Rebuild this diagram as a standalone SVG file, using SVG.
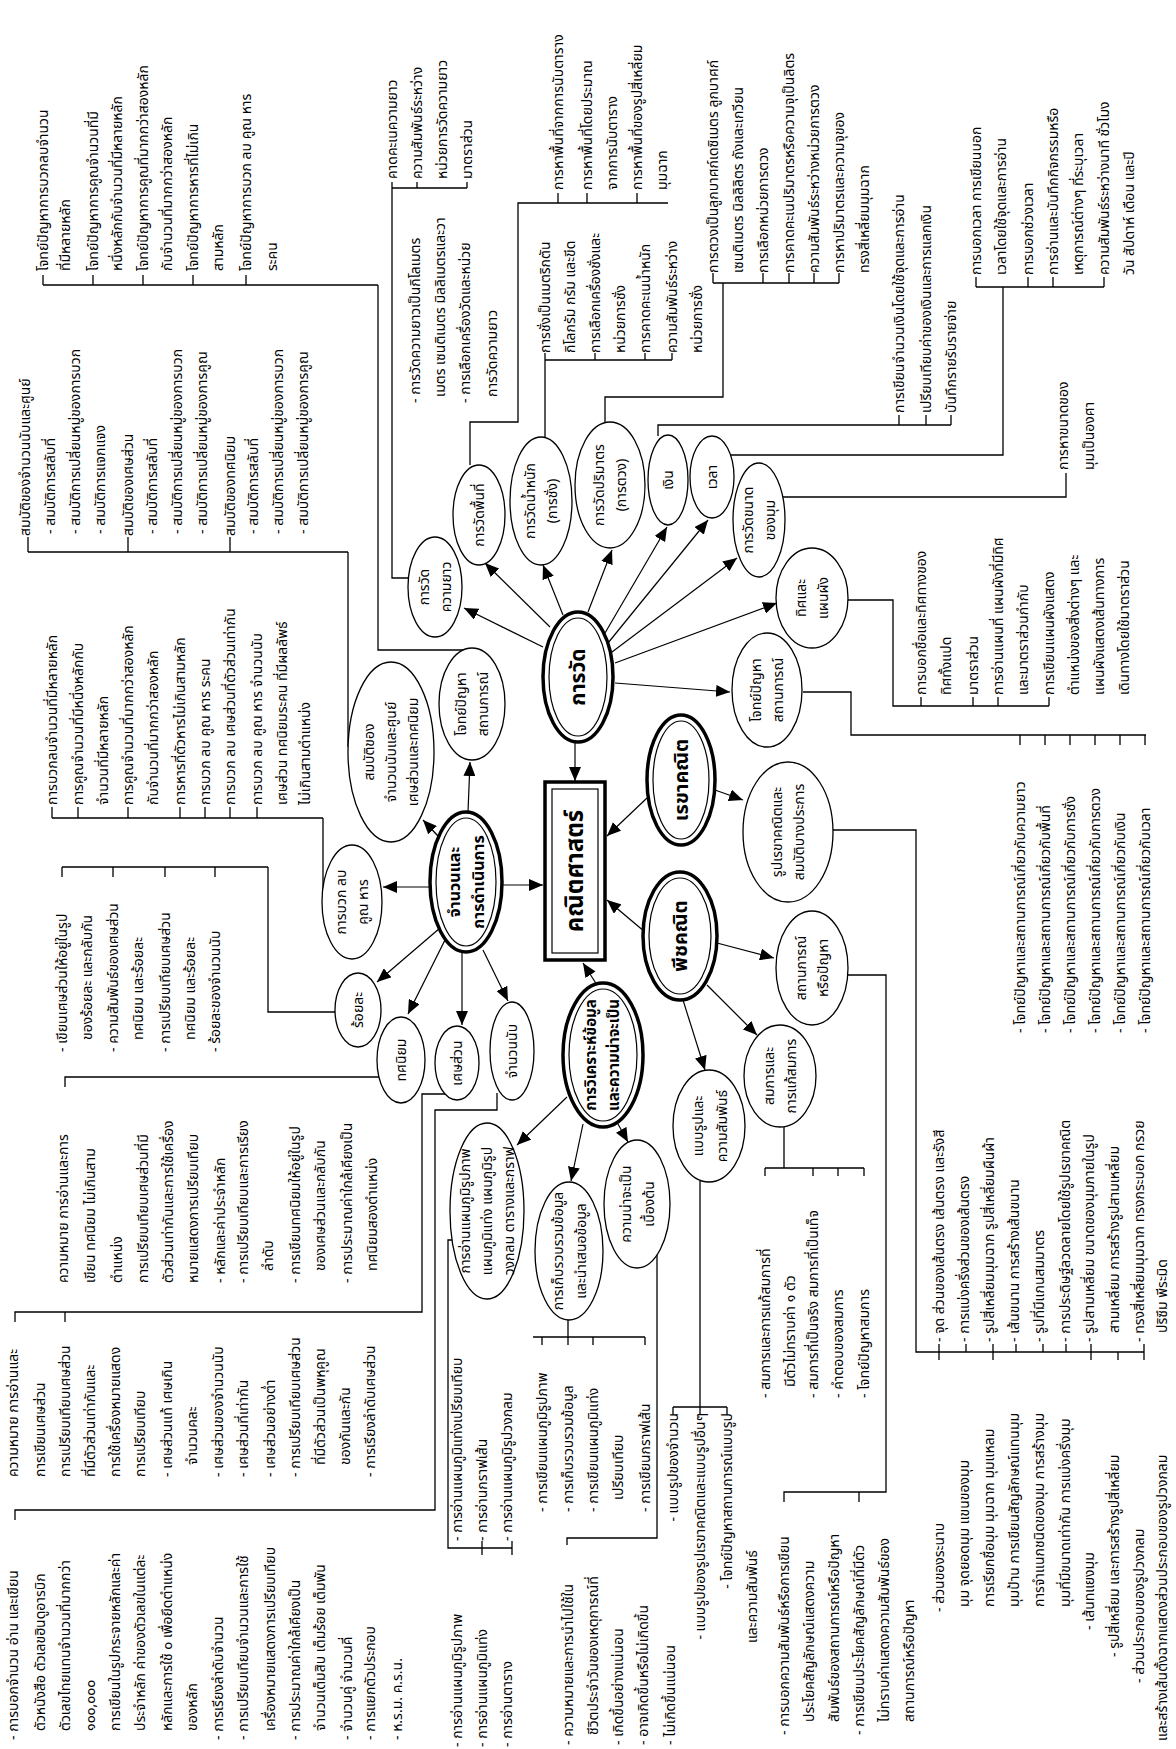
<svg xmlns="http://www.w3.org/2000/svg" width="1176" height="1749" viewBox="0 0 1176 1749">
<style>
.t{font-family:"Noto Sans Thai","Noto Sans","DejaVu Sans",sans-serif;font-size:14px;fill:#000}
.m{text-anchor:middle}
.e{text-anchor:end}
.b{font-weight:bold}
.n{fill:#fff;stroke:#000;stroke-width:1.3}
.h{fill:#fff;stroke:#000;stroke-width:3.5}
.hi{fill:none;stroke:#000;stroke-width:1.2}
.c{fill:none;stroke:#000;stroke-width:1.3}
.a{fill:none;stroke:#000;stroke-width:1.2;marker-end:url(#ah)}
</style>
<defs>
<marker id="ah" viewBox="0 0 14 12" refX="14" refY="6" markerWidth="14" markerHeight="12" markerUnits="userSpaceOnUse" orient="auto"><path d="M0,0 L14,6 L0,12 z" fill="#000"/></marker>
</defs>
<rect width="1176" height="1749" fill="#fff"/>

<g id="connectors">
<path class="c" d="M463,650 H378 V285 M43,285 H378 M43,285 V275 M93,285 V275 M143,285 V275 M193,285 V275 M246,285 V275"/>
<path class="c" d="M409,578 H392 V182 M392,188 H467 M417,188 V182 M467,188 V182"/>
<path class="c" d="M470,465 V422 H518 V203 H668 M558,203 V193 M587,203 V193 M637,203 V193"/>
<path class="c" d="M545,437 V360 H672 M545,360 V353 M595,360 V353 M645,360 V353 M672,360 V353"/>
<path class="c" d="M605,422 V397 H723 V283 M713,283 H839 M713,283 V273 M763,283 V273 M789,283 V273 M814,283 V273 M839,283 V273"/>
<path class="c" d="M658,436 V425 H951 M899,425 V415 M926,425 V415 M951,425 V415"/>
<path class="c" d="M730,455 H1003 V287 M976,287 H1104 M976,287 V277 M1028,287 V277 M1053,287 V277 M1104,287 V277"/>
<path class="c" d="M783,497 H1066 V473"/>
<path class="c" d="M848,600 H893 V706 H1049 M921,706 V697 M973,706 V697 M998,706 V697 M1049,706 V697"/>
<path class="c" d="M803,692 H851 V735 H1146 M1020,735 V745 M1045,735 V745 M1070,735 V745 M1095,735 V745 M1120,735 V745 M1145,735 V745"/>
<path class="c" d="M348,747 V552 M28,552 H348 M28,552 V537 M128,552 V537 M230,552 V537"/>
<path class="c" d="M323,895 V818 M52,818 H323 M52,818 V807 M78,818 V807 M128,818 V807 M180,818 V807 M205,818 V807 M230,818 V807 M257,818 V807"/>
<path class="c" d="M335,1012 H268 V867 M62,867 H268 M62,867 V877 M113,867 V877 M165,867 V877 M215,867 V877"/>
<path class="c" d="M379,1077 H65 V1087"/>
<path class="c" d="M446,1094 H422 V1312 H15 V1322 M65,1312 V1322"/>
<path class="c" d="M497,1093 V1110 H435 V1510 H15 V1520"/>
<path class="c" d="M452,1240 H448 V1548 H512 M482,1541 V1555 M512,1541 V1555"/>
<path class="c" d="M568,1320 V1337 M533,1337 H645 M542,1337 V1345 M568,1337 V1345 M593,1337 V1345 M645,1337 V1345"/>
<path class="c" d="M657,1255 V1538 H567 V1545"/>
<path class="c" d="M700,1181 V1407 M673,1407 H727 M673,1407 V1415 M700,1407 V1415 M727,1407 V1415"/>
<path class="c" d="M784,1127 V1168 M765,1168 H864 M765,1168 V1176 M813,1168 V1176 M838,1168 V1176 M864,1168 V1176"/>
<path class="c" d="M848,975 H886 V1492 H784 V1502 M859,1492 V1502"/>
<path class="c" d="M833,830 H916 V1352 H1144 M939,1344 V1360 M966,1344 V1352 M993,1344 V1360 M1016,1344 V1352 M1043,1344 V1352 M1066,1344 V1352 M1091,1344 V1360 M1118,1352 V1360 M1144,1344 V1360"/>

<line class="a" x1="543" y1="647" x2="464" y2="608"/>
<line class="a" x1="550" y1="627" x2="485" y2="563"/>
<line class="a" x1="563" y1="615" x2="543" y2="565"/>
<line class="a" x1="588" y1="612" x2="612" y2="550"/>
<line class="a" x1="605" y1="633" x2="667" y2="527"/>
<line class="a" x1="608" y1="643" x2="708" y2="520"/>
<line class="a" x1="612" y1="652" x2="737" y2="558"/>
<line class="a" x1="615" y1="663" x2="777" y2="603"/>
<line class="a" x1="615" y1="683" x2="730" y2="692"/>
<line class="a" x1="575" y1="742" x2="575" y2="781"/>
<line class="a" x1="647" y1="798" x2="607" y2="836"/>
<line class="a" x1="715" y1="790" x2="743" y2="800"/>
<line class="a" x1="645" y1="932" x2="607" y2="900"/>
<line class="a" x1="683" y1="1000" x2="705" y2="1070"/>
<line class="a" x1="707" y1="985" x2="757" y2="1035"/>
<line class="a" x1="717" y1="943" x2="774" y2="958"/>
<line class="a" x1="503" y1="885" x2="543" y2="885"/>
<line class="a" x1="468" y1="812" x2="470" y2="762"/>
<line class="a" x1="438" y1="836" x2="423" y2="820"/>
<line class="a" x1="430" y1="887" x2="383" y2="887"/>
<line class="a" x1="440" y1="928" x2="377" y2="982"/>
<line class="a" x1="445" y1="940" x2="408" y2="1014"/>
<line class="a" x1="462" y1="952" x2="462" y2="1025"/>
<line class="a" x1="483" y1="950" x2="508" y2="1001"/>
<line class="a" x1="597" y1="985" x2="583" y2="963"/>
<line class="a" x1="567" y1="1097" x2="517" y2="1145"/>
<line class="a" x1="583" y1="1124" x2="571" y2="1181"/>
<line class="a" x1="618" y1="1124" x2="628" y2="1142"/>
</g>

<g id="math"><rect x="545" y="782" width="60" height="178" fill="#fff" stroke="#000" stroke-width="3.5"/><rect x="552" y="789" width="46" height="164" class="hi"/></g>
<g id="measure"><ellipse class="h" cx="578" cy="677" rx="35" ry="65"/><ellipse class="hi" cx="578" cy="677" rx="29" ry="59"/></g>
<g id="geometry"><ellipse class="h" cx="681" cy="780" rx="34" ry="65"/><ellipse class="hi" cx="681" cy="780" rx="28" ry="59"/></g>
<g id="algebra"><ellipse class="h" cx="680" cy="936" rx="37" ry="64"/><ellipse class="hi" cx="680" cy="936" rx="31" ry="58"/></g>
<g id="number"><ellipse class="h" cx="466" cy="882" rx="36" ry="70"/><ellipse class="hi" cx="466" cy="882" rx="30" ry="64"/></g>
<g id="data"><ellipse class="h" cx="603" cy="1055" rx="40" ry="72"/><ellipse class="hi" cx="603" cy="1055" rx="34" ry="66"/></g>

<g id="n-length"><ellipse class="n" cx="435" cy="587" rx="27" ry="50"/></g>
<g id="n-area"><ellipse class="n" cx="479" cy="515" rx="26" ry="50"/></g>
<g id="n-weight"><ellipse class="n" cx="541" cy="501" rx="31" ry="64"/></g>
<g id="n-volume"><ellipse class="n" cx="610" cy="485" rx="35" ry="63"/></g>
<g id="n-money"><ellipse class="n" cx="668" cy="480" rx="20" ry="45"/></g>
<g id="n-time"><ellipse class="n" cx="712" cy="477" rx="22" ry="41"/></g>
<g id="n-angle"><ellipse class="n" cx="759" cy="520" rx="26" ry="57"/></g>
<g id="n-direction"><ellipse class="n" cx="812" cy="598" rx="36" ry="50"/></g>
<g id="n-mprob"><ellipse class="n" cx="767" cy="690" rx="35" ry="57"/></g>
<g id="n-nprob"><ellipse class="n" cx="472" cy="704" rx="33" ry="56"/></g>
<g id="n-prop"><ellipse class="n" cx="391" cy="752" rx="43" ry="90"/></g>
<g id="n-ops"><ellipse class="n" cx="352" cy="902" rx="30" ry="57"/></g>
<g id="n-percent"><ellipse class="n" cx="358" cy="1010" rx="23" ry="37"/></g>
<g id="n-decimal"><ellipse class="n" cx="401" cy="1060" rx="24" ry="43"/></g>
<g id="n-fraction"><ellipse class="n" cx="457" cy="1063" rx="22" ry="37"/></g>
<g id="n-whole"><ellipse class="n" cx="512" cy="1051" rx="22" ry="49"/></g>
<g id="n-charts"><ellipse class="n" cx="487" cy="1211" rx="37" ry="88"/></g>
<g id="n-collect"><ellipse class="n" cx="569" cy="1251" rx="34" ry="69"/></g>
<g id="n-prob"><ellipse class="n" cx="637" cy="1204" rx="33" ry="64"/></g>
<g id="n-pattern"><ellipse class="n" cx="709" cy="1126" rx="36" ry="56"/></g>
<g id="n-equation"><ellipse class="n" cx="780" cy="1076" rx="36" ry="51"/></g>
<g id="n-situation"><ellipse class="n" cx="812" cy="968" rx="36" ry="57"/></g>
<g id="n-shape"><ellipse class="n" cx="788" cy="832" rx="45" ry="70"/></g>

<g transform="matrix(0,-1,1,0,0,1749)">
<text class="t m b" x="878" y="583" style="font-size:24px">คณิตศาสตร์</text>
<text class="t m b" x="1072" y="585" style="font-size:21px">การวัด</text>
<text class="t m b" x="969" y="688" style="font-size:20px">เรขาคณิต</text>
<text class="t m b" x="813" y="687" style="font-size:20px">พีชคณิต</text>
<text class="t m b" x="867" style="font-size:16px"><tspan x="867" y="460">จำนวนและ</tspan><tspan x="867" y="484">การดำเนินการ</tspan></text>
<text class="t m b" x="694" style="font-size:15px"><tspan x="694" y="596">การวิเคราะห์ข้อมูล</tspan><tspan x="694" y="619">และความน่าจะเป็น</tspan></text>

<text class="t m"><tspan x="1162" y="429">การวัด</tspan><tspan x="1162" y="451">ความยาว</tspan></text>
<text class="t m" x="1234" y="484">การวัดพื้นที่</text>
<text class="t m"><tspan x="1248" y="535">การวัดน้ำหนัก</tspan><tspan x="1248" y="557">(การชั่ง)</tspan></text>
<text class="t m"><tspan x="1264" y="604">การวัดปริมาตร</tspan><tspan x="1264" y="626">(การตวง)</tspan></text>
<text class="t m" x="1269" y="673">เงิน</text>
<text class="t m" x="1272" y="717">เวลา</text>
<text class="t m"><tspan x="1229" y="753">การวัดขนาด</tspan><tspan x="1229" y="775">ของมุม</tspan></text>
<text class="t m"><tspan x="1151" y="806">ทิศและ</tspan><tspan x="1151" y="828">แผนผัง</tspan></text>
<text class="t m"><tspan x="1059" y="761">โจทย์ปัญหา</tspan><tspan x="1059" y="783">สถานการณ์</tspan></text>
<text class="t m"><tspan x="1045" y="466">โจทย์ปัญหา</tspan><tspan x="1045" y="488">สถานการณ์</tspan></text>
<text class="t m"><tspan x="997" y="374">สมบัติของ</tspan><tspan x="997" y="396">จำนวนนับและศูนย์</tspan><tspan x="997" y="418">เศษส่วนและทศนิยม</tspan></text>
<text class="t m"><tspan x="847" y="346">การบวก ลบ</tspan><tspan x="847" y="368">คูณ หาร</tspan></text>
<text class="t m" x="739" y="363">ร้อยละ</text>
<text class="t m" x="689" y="406">ทศนิยม</text>
<text class="t m" x="686" y="462">เศษส่วน</text>
<text class="t m" x="698" y="517">จำนวนนับ</text>
<text class="t m"><tspan x="538" y="470">การอ่านแผนภูมิรูปภาพ</tspan><tspan x="538" y="492">แผนภูมิแท่ง แผนภูมิรูป</tspan><tspan x="538" y="514">วงกลม ตารางและกราฟ</tspan></text>
<text class="t m"><tspan x="498" y="563">การเก็บรวบรวมข้อมูล</tspan><tspan x="498" y="586">และนำเสนอข้อมูล</tspan></text>
<text class="t m"><tspan x="545" y="631">ความน่าจะเป็น</tspan><tspan x="545" y="654">เบื้องต้น</tspan></text>
<text class="t m"><tspan x="623" y="703">แบบรูปและ</tspan><tspan x="623" y="727">ความสัมพันธ์</tspan></text>
<text class="t m"><tspan x="673" y="774">สมการและ</tspan><tspan x="673" y="796">การแก้สมการ</tspan></text>
<text class="t m"><tspan x="781" y="806">สถานการณ์</tspan><tspan x="781" y="828">หรือปัญหา</tspan></text>
<text class="t m"><tspan x="917" y="782">รูปเรขาคณิตและ</tspan><tspan x="917" y="804">สมบัติบางประการ</tspan></text>

<text class="t"><tspan x="1478" y="48">โจทย์ปัญหาการบวกลบจำนวน</tspan><tspan x="1478" y="70">ที่มีหลายหลัก</tspan><tspan x="1478" y="98">โจทย์ปัญหาการคูณจำนวนที่มี</tspan><tspan x="1478" y="122">หนึ่งหลักกับจำนวนที่มีหลายหลัก</tspan><tspan x="1478" y="148">โจทย์ปัญหาการคูณที่มากกว่าสองหลัก</tspan><tspan x="1478" y="172">กับจำนวนที่มากกว่าสองหลัก</tspan><tspan x="1478" y="198">โจทย์ปัญหาการหารที่ไม่เกิน</tspan><tspan x="1478" y="223">สามหลัก</tspan><tspan x="1478" y="251">โจทย์ปัญหาการบวก ลบ คูณ หาร</tspan><tspan x="1478" y="277">ระคน</tspan></text>
<text class="t"><tspan x="1570" y="397">คาดคะเนความยาว</tspan><tspan x="1570" y="422">ความสัมพันธ์ระหว่าง</tspan><tspan x="1570" y="447">หน่วยการวัดความยาว</tspan><tspan x="1570" y="472">มาตราส่วน</tspan></text>
<text class="t"><tspan x="1346" y="420">- การวัดความยาวเป็นกิโลเมตร</tspan><tspan x="1352" y="445">เมตร เซนติเมตร มิลลิเมตรและวา</tspan><tspan x="1346" y="470">- การเลือกเครื่องวัดและหน่วย</tspan><tspan x="1352" y="497">การวัดความยาว</tspan></text>
<text class="t"><tspan x="1559" y="563">การหาพื้นที่จากการนับตาราง</tspan><tspan x="1559" y="592">การหาพื้นที่โดยประมาณ</tspan><tspan x="1559" y="617">จากการนับตาราง</tspan><tspan x="1559" y="642">การหาพื้นที่ของรูปสี่เหลี่ยม</tspan><tspan x="1559" y="667">มุมฉาก</tspan></text>
<text class="t"><tspan x="1396" y="550">การชั่งเป็นเมตริกตัน</tspan><tspan x="1396" y="575">กิโลกรัม กรัม และขีด</tspan><tspan x="1396" y="600">การเลือกเครื่องชั่งและ</tspan><tspan x="1396" y="625">หน่วยการชั่ง</tspan><tspan x="1396" y="650">การคาดคะเนน้ำหนัก</tspan><tspan x="1396" y="677">ความสัมพันธ์ระหว่าง</tspan><tspan x="1396" y="702">หน่วยการชั่ง</tspan></text>
<text class="t"><tspan x="1476" y="718">การตวงเป็นลูกบาศก์เดซิเมตร ลูกบาศก์</tspan><tspan x="1476" y="743">เซนติเมตร มิลลิลิตร ถังและเกวียน</tspan><tspan x="1476" y="768">การเลือกหน่วยการตวง</tspan><tspan x="1476" y="794">การคาดคะเนปริมาตรหรือความจุเป็นลิตร</tspan><tspan x="1476" y="819">ความสัมพันธ์ระหว่างหน่วยการตวง</tspan><tspan x="1476" y="844">การหาปริมาตรและความจุของ</tspan><tspan x="1476" y="869">ทรงสี่เหลี่ยมมุมฉาก</tspan></text>
<text class="t"><tspan x="1336" y="904">การเขียนจำนวนเงินโดยใช้จุดและการอ่าน</tspan><tspan x="1336" y="931">เปรียบเทียบค่าของเงินและการแลกเงิน</tspan><tspan x="1336" y="956">บันทึกรายรับรายจ่าย</tspan></text>
<text class="t"><tspan x="1474" y="981">การบอกเวลา การเขียนบอก</tspan><tspan x="1474" y="1006">เวลาโดยใช้จุดและการอ่าน</tspan><tspan x="1474" y="1033">การบอกช่วงเวลา</tspan><tspan x="1474" y="1058">การอ่านและบันทึกกิจกรรมหรือ</tspan><tspan x="1474" y="1083">เหตุการณ์ต่างๆ ที่ระบุเวลา</tspan><tspan x="1474" y="1109">ความสัมพันธ์ระหว่างนาที ชั่วโมง</tspan><tspan x="1474" y="1134">วัน สัปดาห์ เดือน และปี</tspan></text>
<text class="t"><tspan x="1279" y="1068">การหาขนาดของ</tspan><tspan x="1279" y="1094">มุมเป็นองศา</tspan></text>
<text class="t"><tspan x="1054" y="926">การบอกชื่อและทิศทางของ</tspan><tspan x="1054" y="951">ทิศทั้งแปด</tspan><tspan x="1054" y="978">มาตราส่วน</tspan><tspan x="1054" y="1003">การอ่านแผนที่ แผนผังที่มีทิศ</tspan><tspan x="1054" y="1028">และมาตราส่วนกำกับ</tspan><tspan x="1054" y="1054">การเขียนแผนผังแสดง</tspan><tspan x="1054" y="1079">ตำแหน่งของสิ่งต่างๆ และ</tspan><tspan x="1054" y="1104">แผนผังแสดงเส้นทางการ</tspan><tspan x="1054" y="1129">เดินทางโดยใช้มาตราส่วน</tspan></text>
<text class="t"><tspan x="716" y="1025">- โจทย์ปัญหาและสถานการณ์เกี่ยวกับความยาว</tspan><tspan x="716" y="1050">- โจทย์ปัญหาและสถานการณ์เกี่ยวกับพื้นที่</tspan><tspan x="716" y="1075">- โจทย์ปัญหาและสถานการณ์เกี่ยวกับการชั่ง</tspan><tspan x="716" y="1100">- โจทย์ปัญหาและสถานการณ์เกี่ยวกับการตวง</tspan><tspan x="716" y="1125">- โจทย์ปัญหาและสถานการณ์เกี่ยวกับเงิน</tspan><tspan x="716" y="1150">- โจทย์ปัญหาและสถานการณ์เกี่ยวกับเวลา</tspan></text>
<text class="t"><tspan x="1213" y="30">สมบัติของจำนวนนับและศูนย์</tspan><tspan x="1215" y="55">- สมบัติการสลับที่</tspan><tspan x="1215" y="80">- สมบัติการเปลี่ยนหมู่ของการบวก</tspan><tspan x="1215" y="105">- สมบัติการแจกแจง</tspan><tspan x="1213" y="133">สมบัติของเศษส่วน</tspan><tspan x="1215" y="157">- สมบัติการสลับที่</tspan><tspan x="1215" y="182">- สมบัติการเปลี่ยนหมู่ของการบวก</tspan><tspan x="1215" y="207">- สมบัติการเปลี่ยนหมู่ของการคูณ</tspan><tspan x="1213" y="235">สมบัติของทศนิยม</tspan><tspan x="1215" y="258">- สมบัติการสลับที่</tspan><tspan x="1215" y="283">- สมบัติการเปลี่ยนหมู่ของการบวก</tspan><tspan x="1215" y="308">- สมบัติการเปลี่ยนหมู่ของการคูณ</tspan></text>
<text class="t"><tspan x="944" y="57">การบวกลบจำนวนที่มีหลายหลัก</tspan><tspan x="944" y="83">การคูณจำนวนที่มีหนึ่งหลักกับ</tspan><tspan x="944" y="108">จำนวนที่มีหลายหลัก</tspan><tspan x="944" y="133">การคูณจำนวนที่มากกว่าสองหลัก</tspan><tspan x="944" y="158">กับจำนวนที่มากกว่าสองหลัก</tspan><tspan x="944" y="185">การหารที่ตัวหารไม่เกินสามหลัก</tspan><tspan x="944" y="210">การบวก ลบ คูณ หาร ระคน</tspan><tspan x="944" y="235">การบวก ลบ เศษส่วนที่ตัวส่วนเท่ากัน</tspan><tspan x="944" y="262">การบวก ลบ คูณ หาร จำนวนนับ</tspan><tspan x="944" y="287">เศษส่วน ทศนิยมระคน ที่มีผลลัพธ์</tspan><tspan x="944" y="310">ไม่เกินสามตำแหน่ง</tspan></text>
<text class="t"><tspan x="697" y="67">- เขียนเศษส่วนให้อยู่ในรูป</tspan><tspan x="709" y="92">ของร้อยละ และกลับกัน</tspan><tspan x="697" y="118">- ความสัมพันธ์ของเศษส่วน</tspan><tspan x="709" y="143">ทศนิยม และร้อยละ</tspan><tspan x="697" y="170">- การเปรียบเทียบเศษส่วน</tspan><tspan x="709" y="195">ทศนิยม และร้อยละ</tspan><tspan x="697" y="220">- ร้อยละของจำนวนนับ</tspan></text>
<text class="t"><tspan x="466" y="68">ความหมาย การอ่านและการ</tspan><tspan x="466" y="95">เขียน ทศนิยม ไม่เกินสาม</tspan><tspan x="466" y="122">ตำแหน่ง</tspan><tspan x="466" y="148">การเปรียบเทียบเศษส่วนที่มี</tspan><tspan x="466" y="173">ตัวส่วนเท่ากันและการใช้เครื่อง</tspan><tspan x="466" y="198">หมายแสดงการเปรียบเทียบ</tspan><tspan x="466" y="225">- หลักและค่าประจำหลัก</tspan><tspan x="466" y="248">- การเปรียบเทียบและการเรียง</tspan><tspan x="478" y="273">ลำดับ</tspan><tspan x="466" y="300">- การเขียนทศนิยมให้อยู่ในรูป</tspan><tspan x="478" y="325">ของเศษส่วนและกลับกัน</tspan><tspan x="466" y="352">- การประมาณค่าใกล้เคียงเป็น</tspan><tspan x="478" y="377">ทศนิยมสองตำแหน่ง</tspan></text>
<text class="t"><tspan x="272" y="18">ความหมาย การอ่านและ</tspan><tspan x="272" y="45">การเขียนเศษส่วน</tspan><tspan x="272" y="70">การเปรียบเทียบเศษส่วน</tspan><tspan x="272" y="95">ที่มีตัวส่วนเท่ากันและ</tspan><tspan x="272" y="120">การใช้เครื่องหมายแสดง</tspan><tspan x="272" y="145">การเปรียบเทียบ</tspan><tspan x="272" y="172">- เศษส่วนแท้ เศษเกิน</tspan><tspan x="284" y="197">จำนวนคละ</tspan><tspan x="272" y="223">- เศษส่วนของจำนวนนับ</tspan><tspan x="272" y="248">- เศษส่วนที่เท่ากัน</tspan><tspan x="272" y="275">- เศษส่วนอย่างต่ำ</tspan><tspan x="272" y="300">- การเปรียบเทียบเศษส่วน</tspan><tspan x="284" y="325">ที่มีตัวส่วนเป็นพหุคูณ</tspan><tspan x="284" y="350">ของกันและกัน</tspan><tspan x="272" y="375">- การเรียงลำดับเศษส่วน</tspan></text>
<text class="t"><tspan x="9" y="18">- การบอกจำนวน อ่าน และเขียน</tspan><tspan x="18" y="45">ตัวหนังสือ ตัวเลขฮินดูอารบิก</tspan><tspan x="18" y="70">ตัวเลขไทยแทนจำนวนที่มากกว่า</tspan><tspan x="18" y="95">๑๐๐,๐๐๐</tspan><tspan x="18" y="120">การเขียนในรูปกระจายหลักและค่า</tspan><tspan x="18" y="145">ประจำหลัก ค่าของตัวเลขในแต่ละ</tspan><tspan x="18" y="172">หลักและการใช้ ๐ เพื่อยึดตำแหน่ง</tspan><tspan x="18" y="197">ของหลัก</tspan><tspan x="9" y="223">- การเรียงลำดับจำนวน</tspan><tspan x="9" y="248">- การเปรียบเทียบจำนวนและการใช้</tspan><tspan x="18" y="275">เครื่องหมายแสดงการเปรียบเทียบ</tspan><tspan x="9" y="300">- การประมาณค่าใกล้เคียงเป็น</tspan><tspan x="18" y="325">จำนวนเต็มสิบ เต็มร้อย เต็มพัน</tspan><tspan x="9" y="352">- จำนวนคู่ จำนวนคี่</tspan><tspan x="9" y="375">- การแยกตัวประกอบ</tspan><tspan x="9" y="402">- ห.ร.ม. ค.ร.น.</tspan></text>
<text class="t"><tspan x="208" y="462">- การอ่านแผนภูมิแท่งเปรียบเทียบ</tspan><tspan x="208" y="487">- การอ่านกราฟเส้น</tspan><tspan x="208" y="512">- การอ่านแผนภูมิรูปวงกลม</tspan></text>
<text class="t"><tspan x="2" y="462">- การอ่านแผนภูมิรูปภาพ</tspan><tspan x="2" y="487">- การอ่านแผนภูมิแท่ง</tspan><tspan x="2" y="512">- การอ่านตาราง</tspan></text>
<text class="t"><tspan x="237" y="547">- การเขียนแผนภูมิรูปภาพ</tspan><tspan x="237" y="573">- การเก็บรวบรวมข้อมูล</tspan><tspan x="237" y="598">- การเขียนแผนภูมิแท่ง</tspan><tspan x="249" y="623">เปรียบเทียบ</tspan><tspan x="237" y="650">- การเขียนกราฟเส้น</tspan></text>
<text class="t"><tspan x="4" y="573">- ความหมายและการนำไปใช้ใน</tspan><tspan x="14" y="598">ชีวิตประจำวันของเหตุการณ์ที่</tspan><tspan x="4" y="623">- เกิดขึ้นอย่างแน่นอน</tspan><tspan x="4" y="648">- อาจเกิดขึ้นหรือไม่เกิดขึ้น</tspan><tspan x="4" y="675">- ไม่เกิดขึ้นแน่นอน</tspan></text>
<text class="t e"><tspan x="336" y="678">- แบบรูปของจำนวน</tspan><tspan x="336" y="705">- แบบรูปของรูปเรขาคณิตและแบบรูปอื่นๆ</tspan><tspan x="336" y="732">- โจทย์ปัญหาสถานการณ์แบบรูป</tspan></text>
<text class="t" x="106" y="757">และความสัมพันธ์</text>
<text class="t"><tspan x="351" y="770">- สมการและการแก้สมการที่</tspan><tspan x="362" y="795">มีตัวไม่ทราบค่า ๑ ตัว</tspan><tspan x="351" y="818">- สมการที่เป็นจริง สมการที่เป็นเท็จ</tspan><tspan x="351" y="843">- คำตอบของสมการ</tspan><tspan x="351" y="869">- โจทย์ปัญหาสมการ</tspan></text>
<text class="t"><tspan x="14" y="789">- การบอกความสัมพันธ์หรือการเขียน</tspan><tspan x="27" y="814">ประโยคสัญลักษณ์แสดงความ</tspan><tspan x="27" y="839">สัมพันธ์ของสถานการณ์หรือปัญหา</tspan><tspan x="14" y="864">- การเขียนประโยคสัญลักษณ์ที่มีตัว</tspan><tspan x="27" y="889">ไม่ทราบค่าแสดงความสัมพันธ์ของ</tspan><tspan x="27" y="914">สถานการณ์หรือปัญหา</tspan></text>
<text class="t"><tspan x="407" y="944">- จุด ส่วนของเส้นตรง เส้นตรง และรังสี</tspan><tspan x="407" y="969">- การแบ่งครึ่งส่วนของเส้นตรง</tspan><tspan x="407" y="994">- รูปสี่เหลี่ยมมุมฉาก รูปสี่เหลี่ยมผืนผ้า</tspan><tspan x="407" y="1019">- เส้นขนาน การสร้างเส้นขนาน</tspan><tspan x="407" y="1044">- รูปที่มีแกนสมมาตร</tspan><tspan x="407" y="1070">- การประดิษฐ์ลวดลายโดยใช้รูปเรขาคณิต</tspan><tspan x="407" y="1094">- รูปสามเหลี่ยม ขนาดของมุมภายในรูป</tspan><tspan x="416" y="1119">สามเหลี่ยม การสร้างรูปสามเหลี่ยม</tspan><tspan x="407" y="1144">- ทรงสี่เหลี่ยมมุมฉาก ทรงกระบอก กรวย</tspan><tspan x="416" y="1167">ปริซึม พีระมิด</tspan></text>
<text class="t"><tspan x="137" y="944">- ส่วนของระนาบ</tspan><tspan x="142" y="969">มุม จุดยอดมุม แขนของมุม</tspan><tspan x="142" y="994">การเรียกชื่อมุม มุมฉาก มุมแหลม</tspan><tspan x="142" y="1019">มุมป้าน การเขียนสัญลักษณ์แทนมุม</tspan><tspan x="142" y="1044">การจำแนกชนิดของมุม การสร้างมุม</tspan><tspan x="142" y="1070">มุมที่มีขนาดเท่ากัน การแบ่งครึ่งมุม</tspan><tspan x="119" y="1094">- เส้นทแยงมุม</tspan><tspan x="92" y="1119">- รูปสี่เหลี่ยม และการสร้างรูปสี่เหลี่ยม</tspan><tspan x="66" y="1144">- ส่วนประกอบของรูปวงกลม</tspan><tspan x="8" y="1167">และสร้างเส้นตั้งฉากแสดงส่วนประกอบของรูปวงกลม</tspan></text>
</g>
</svg>
